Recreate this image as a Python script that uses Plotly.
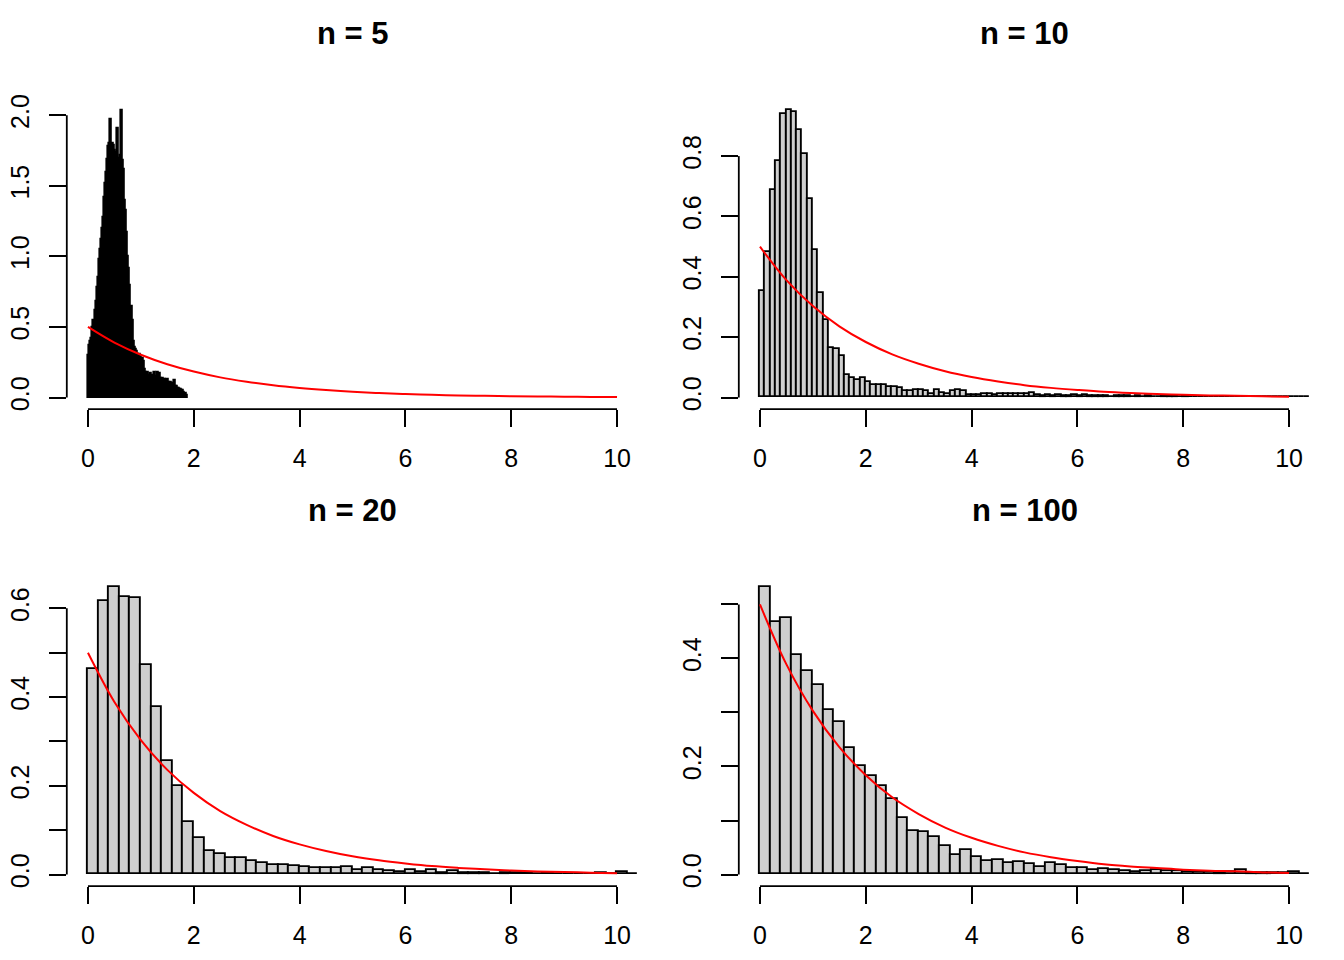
import plotly.graph_objects as go

# ---------------- data ----------------
titles = ["n = 5", "n = 10", "n = 20", "n = 100"]

bin_width_n5 = 0.02
dens_n5 = [0.30, 0.37, 0.40, 0.42, 0.50, 0.55, 0.62, 0.68, 0.78, 0.85,
           0.98, 1.05, 1.12, 1.20, 1.28, 1.42, 1.52, 1.60, 1.69, 1.78,
           1.80, 1.97, 1.80, 1.79, 1.75, 1.74, 1.70, 1.91, 1.70, 1.69,
           1.72, 2.04, 1.68, 1.62, 1.40, 1.33, 1.17, 1.00, 0.92, 0.80,
           0.65, 0.55, 0.40, 0.36, 0.34, 0.33, 0.31, 0.30, 0.31, 0.29,
           0.27, 0.28, 0.26, 0.20, 0.18, 0.17, 0.18, 0.16, 0.17, 0.15,
           0.16, 0.14, 0.18, 0.15, 0.14, 0.18, 0.16, 0.17, 0.14, 0.13,
           0.14, 0.12, 0.13, 0.12, 0.13, 0.11, 0.10, 0.11, 0.10, 0.09,
           0.10, 0.125, 0.08, 0.08, 0.07, 0.07, 0.06, 0.06, 0.05, 0.05,
           0.04, 0.03, 0.02]

bin_width_n10 = 0.1
dens_n10 = [0.354, 0.483, 0.687, 0.782, 0.938, 0.954, 0.945, 0.886, 0.808, 0.658,
            0.487, 0.347, 0.257, 0.165, 0.160, 0.138, 0.075, 0.066, 0.058, 0.066,
            0.051, 0.042, 0.041, 0.041, 0.036, 0.033, 0.031, 0.022, 0.022, 0.026,
            0.024, 0.020, 0.013, 0.026, 0.014, 0.013, 0.020, 0.024, 0.022, 0.009,
            0.008, 0.008, 0.013, 0.012, 0.009, 0.013, 0.012, 0.013, 0.011, 0.010,
            0.011, 0.014, 0.007, 0.006, 0.008, 0.006, 0.007, 0.005, 0.006, 0.007,
            0.005, 0.009, 0.006, 0.005, 0.004, 0.005, 0.003, 0.004, 0.004, 0.006,
            0.003, 0.004, 0.003, 0.004, 0.003, 0.002, 0.005, 0.005, 0.004, 0.003,
            0.004, 0.002, 0.003, 0.003, 0.002, 0.003, 0.002, 0.003, 0.002, 0.002,
            0.003, 0.001, 0.002, 0.002, 0.002, 0.001, 0.002, 0.001, 0.002, 0.001,
            0.001, 0.002, 0.001, 0.001]

bin_width_n20 = 0.2
dens_n20 = [0.463, 0.616, 0.649, 0.626, 0.623, 0.471, 0.378, 0.255, 0.199, 0.118,
            0.082, 0.052, 0.045, 0.037, 0.037, 0.031, 0.025, 0.022, 0.021, 0.019,
            0.016, 0.015, 0.0135, 0.0135, 0.016, 0.009, 0.015, 0.009, 0.0075, 0.005,
            0.009, 0.0045, 0.010, 0.004, 0.008, 0.004, 0.003, 0.004, 0.002, 0.004,
            0.003, 0.003, 0.002, 0.003, 0.002, 0.002, 0.001, 0.002, 0.003, 0.001,
            0.005, 0.001]

bin_width_n100 = 0.2
dens_n100 = [0.533, 0.467, 0.474, 0.407, 0.376, 0.351, 0.304, 0.282, 0.234, 0.2005,
             0.183, 0.164, 0.140, 0.105, 0.081, 0.079, 0.070, 0.052, 0.036, 0.046,
             0.033, 0.025, 0.026, 0.021, 0.023, 0.019, 0.0135, 0.0215, 0.0166, 0.011,
             0.0117, 0.008, 0.0105, 0.0074, 0.0068, 0.005, 0.006, 0.0086, 0.0068, 0.0055,
             0.0037, 0.004, 0.004, 0.003, 0.005, 0.008, 0.003, 0.0025, 0.0025, 0.003,
             0.004, 0.001]

# red reference curve
curve_x = [0, 0.5, 1, 1.5, 2, 2.5, 3, 3.5, 4, 4.5, 5, 5.5, 6, 6.5, 7, 7.5, 8, 8.5, 9, 9.5, 10]
curve_y = [0.500, 0.389, 0.303, 0.236, 0.184, 0.143, 0.112, 0.087, 0.068, 0.053,
           0.041, 0.032, 0.025, 0.019, 0.015, 0.012, 0.009, 0.007, 0.006, 0.004, 0.003]

x_ticks = [0, 2, 4, 6, 8, 10]
x_labels = ["0", "2", "4", "6", "8", "10"]

y_ticks_n5 = [0, 0.5, 1.0, 1.5, 2.0]
y_labels_n5 = ["0.0", "0.5", "1.0", "1.5", "2.0"]
y_ticks_n10 = [0, 0.2, 0.4, 0.6, 0.8]
y_labels_n10 = ["0.0", "0.2", "0.4", "0.6", "0.8"]
y_ticks_n20 = [0, 0.1, 0.2, 0.3, 0.4, 0.5, 0.6]
y_labels_n20 = ["0.0", "", "0.2", "", "0.4", "", "0.6"]
y_ticks_n100 = [0, 0.1, 0.2, 0.3, 0.4, 0.5]
y_labels_n100 = ["0.0", "", "0.2", "", "0.4", ""]

panels = [
    (dens_n5, bin_width_n5, y_ticks_n5, y_labels_n5),
    (dens_n10, bin_width_n10, y_ticks_n10, y_labels_n10),
    (dens_n20, bin_width_n20, y_ticks_n20, y_labels_n20),
    (dens_n100, bin_width_n100, y_ticks_n100, y_labels_n100),
]

# ---------------- layout ----------------
W, H = 1344, 960
x_doms_px = [(66.8, 638.2), (738.8, 1310.2)]
y_doms_px = [(94.7, 407.6), (574.7, 887.6)]
FONT = "Liberation Sans, Arial, Helvetica, sans-serif"
BAR_FILL = "#CFCFCF"
BAR_LINE_W = [2.4, 1.9, 1.9, 1.9]

fig = go.Figure()
layout = dict(width=W, height=H, margin=dict(l=0, r=0, t=0, b=0),
              paper_bgcolor="white", plot_bgcolor="white", showlegend=False,
              font=dict(family=FONT, color="black", size=25))
shapes = []
annotations = []

for i, (dens, bw, yt, yl) in enumerate(panels):
    row, col = divmod(i, 2)
    xs = "" if i == 0 else str(i + 1)
    xa, ya = "x" + xs, "y" + xs
    centers = [bw * (k + 0.5) for k in range(len(dens))]
    fig.add_trace(go.Bar(x=centers, y=dens, width=bw, xaxis=xa, yaxis=ya,
                         marker=dict(color=BAR_FILL, line=dict(color="black", width=BAR_LINE_W[i])),
                         hoverinfo="skip"))
    fig.add_trace(go.Scatter(x=curve_x, y=curve_y, mode="lines", line_shape="spline",
                             line=dict(color="#FF0000", width=2), xaxis=xa, yaxis=ya,
                             hoverinfo="skip"))
    ymax = max(dens)
    xd = [x_doms_px[col][0] / W, x_doms_px[col][1] / W]
    yd = [1 - y_doms_px[row][1] / H, 1 - y_doms_px[row][0] / H]
    layout["xaxis" + xs] = dict(domain=xd, anchor=ya, range=[-0.4, 10.4],
                                tickvals=x_ticks, ticktext=x_labels, ticks="outside",
                                ticklen=17, tickwidth=1.8, tickcolor="black",
                                showgrid=False, zeroline=False, showline=False,
                                ticklabelstandoff=10, tickfont=dict(size=25))
    layout["yaxis" + xs] = dict(domain=yd, anchor=xa, range=[-0.04 * ymax, 1.04 * ymax],
                                tickvals=yt, ticktext=yl, ticks="outside",
                                ticklen=17, tickwidth=1.8, tickcolor="black",
                                showgrid=False, zeroline=False, showline=False,
                                tickangle=-90, ticklabelstandoff=10, tickfont=dict(size=25))
    shapes.append(dict(type="line", xref=xa, yref=ya + " domain", x0=x_ticks[0], x1=x_ticks[-1],
                       y0=0, y1=0, line=dict(color="black", width=1.8)))
    shapes.append(dict(type="line", xref=xa + " domain", yref=ya, x0=0, x1=0,
                       y0=yt[0], y1=yt[-1], line=dict(color="black", width=1.8)))
    annotations.append(dict(text="<b>" + titles[i] + "</b>", xref="paper", yref="paper",
                            x=(xd[0] + xd[1]) / 2, y=1 - (30 + 480 * row) / H,
                            xanchor="center", yanchor="middle", showarrow=False,
                            font=dict(size=31, family=FONT, color="black")))

layout["shapes"] = shapes
layout["annotations"] = annotations
layout["bargap"] = 0
fig.update_layout(**layout)
fig.write_html("out.html", config={"displayModeBar": False},
               post_script="document.body.style.margin='0px';document.body.style.padding='0px';")
